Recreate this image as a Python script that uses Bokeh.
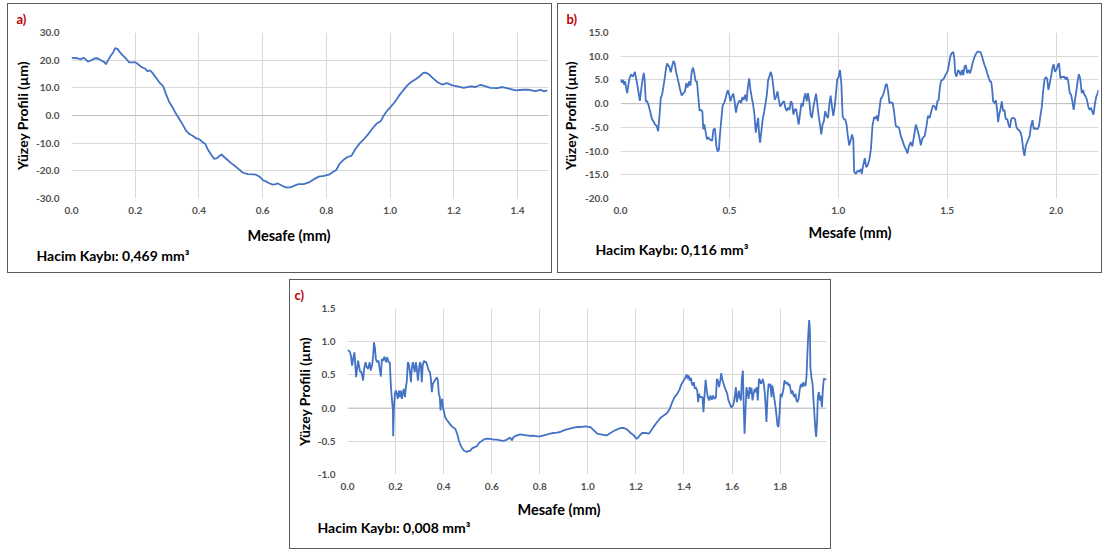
from bokeh.plotting import figure
from bokeh.models import Range1d, Title, Span, NumeralTickFormatter, FixedTicker, Spacer
from bokeh.layouts import row, column
from bokeh.embed import file_html
from bokeh.resources import INLINE

# ---------------- data ----------------
a_x = [0.000, 0.019, 0.029, 0.038, 0.045, 0.052, 0.063, 0.071, 0.082, 0.092, 0.103, 0.108, 0.115, 0.124,
       0.130, 0.137, 0.145, 0.151, 0.160, 0.171, 0.181, 0.192, 0.200, 0.209, 0.220, 0.230, 0.239, 0.246,
       0.254, 0.265, 0.275, 0.288, 0.296, 0.307, 0.317, 0.328, 0.338, 0.349, 0.359, 0.370, 0.380, 0.391,
       0.403, 0.412, 0.420, 0.427, 0.438, 0.448, 0.457, 0.464, 0.471, 0.480, 0.490, 0.501, 0.511, 0.524,
       0.537, 0.553, 0.569, 0.579, 0.590, 0.600, 0.610, 0.621, 0.631, 0.642,
       0.646, 0.661, 0.672, 0.687, 0.703, 0.713, 0.729, 0.745, 0.761, 0.776, 0.792, 0.808, 0.818, 0.831,
       0.841, 0.853, 0.865, 0.879, 0.891, 0.905, 0.918, 0.930, 0.944, 0.957, 0.970, 0.980, 0.991, 1.001,
       1.014, 1.027, 1.041, 1.054, 1.066, 1.080, 1.092, 1.104, 1.111, 1.122, 1.134, 1.148, 1.163, 1.179,
       1.195, 1.211, 1.231, 1.252, 1.268, 1.284, 1.300, 1.315, 1.336, 1.352, 1.373, 1.394, 1.415, 1.436,
       1.456, 1.472, 1.483, 1.493]
a_y = [20.8, 20.7, 20.3, 20.9, 20.2, 19.5, 20.0, 20.6, 20.7, 20.0, 19.3, 18.5, 20.0, 21.8,
       22.6, 24.4, 24.0, 23.0, 21.8, 20.6, 19.2, 19.2, 19.3, 18.5, 17.5, 17.0, 16.0, 16.3,
       15.4, 13.7, 12.1, 10.5, 7.9, 4.8, 3.0, 0.6, -1.2, -3.3, -5.4, -6.7, -7.3, -8.2,
       -8.7, -9.7, -10.3, -12.1, -14.1, -15.7, -15.4, -14.6, -14.1, -15.1, -16.1, -17.2, -18.1, -19.3,
       -20.6, -21.2, -21.3, -21.4, -22.1, -23.3, -23.8, -24.5, -25.0, -24.8,
       -24.5, -25.4, -26.0, -26.0, -25.2, -24.8, -24.8, -24.2, -23.0, -22.1, -21.8, -21.4, -20.6, -19.7,
       -17.5, -16.1, -15.1, -14.5, -12.1, -10.0, -8.5, -6.9, -4.8, -3.0, -2.1, 0.0, 1.8, 3.0,
       4.8, 7.0, 9.1, 10.9, 12.1, 13.1, 14.1, 15.4, 15.5, 14.9, 13.5, 12.1, 11.2, 11.7,
       10.9, 10.5, 10.0, 10.5, 10.3, 11.1, 10.5, 10.0, 9.9, 10.3, 9.7, 9.1, 9.3, 9.3,
       8.8, 9.3, 8.7, 9.1]

b_x = [0.000, 0.006, 0.011, 0.017, 0.021, 0.026, 0.031, 0.035, 0.041, 0.049, 0.055, 0.060, 0.066, 0.070,
       0.076, 0.082, 0.089, 0.095, 0.101, 0.107, 0.111, 0.116, 0.122, 0.128, 0.136, 0.144, 0.151, 0.159,
       0.166, 0.173, 0.179, 0.185, 0.191, 0.197, 0.203, 0.209, 0.214, 0.218, 0.224, 0.231, 0.237, 0.243,
       0.249, 0.255, 0.261, 0.267, 0.273, 0.281, 0.289, 0.296, 0.302, 0.308, 0.315, 0.321, 0.327, 0.333,
       0.339, 0.345, 0.351, 0.357, 0.363, 0.369, 0.376, 0.380, 0.385, 0.391, 0.397, 0.403, 0.409, 0.415,
       0.421, 0.427, 0.434, 0.440, 0.446, 0.452, 0.456, 0.463, 0.469, 0.475, 0.481, 0.487, 0.493, 0.499,
       0.505, 0.511, 0.518, 0.524, 0.530, 0.536, 0.542, 0.548, 0.554, 0.560, 0.566, 0.573, 0.579, 0.585,
       0.591, 0.597, 0.603, 0.609, 0.615, 0.621, 0.627, 0.632, 0.637, 0.641, 0.647, 0.653, 0.660, 0.666,
       0.672, 0.678, 0.684, 0.690, 0.696, 0.702, 0.708, 0.715, 0.721, 0.727, 0.733, 0.739, 0.745, 0.751,
       0.757, 0.763, 0.769, 0.776, 0.782, 0.788, 0.794, 0.800, 0.806, 0.812, 0.818, 0.824, 0.831, 0.837,
       0.843, 0.849, 0.855, 0.861, 0.867, 0.873, 0.879, 0.885, 0.892, 0.898, 0.904, 0.910, 0.916, 0.922,
       0.928, 0.934, 0.940, 0.947, 0.953, 0.959, 0.965, 0.971, 0.977, 0.983, 0.989, 0.995, 1.002, 1.008,
       1.014, 1.020, 1.026, 1.032, 1.038, 1.044, 1.050, 1.056, 1.063, 1.069,
       1.073, 1.081, 1.089, 1.096, 1.104, 1.108, 1.114, 1.122, 1.128, 1.134, 1.142, 1.150, 1.157, 1.165,
       1.171, 1.177, 1.182, 1.188, 1.195, 1.203, 1.211, 1.218, 1.223, 1.229, 1.235, 1.241, 1.250, 1.256,
       1.264, 1.272, 1.279, 1.287, 1.295, 1.302, 1.310, 1.318, 1.325, 1.333, 1.340, 1.348, 1.356, 1.363,
       1.371, 1.379, 1.385, 1.391, 1.397, 1.405, 1.412, 1.420, 1.427, 1.435, 1.443, 1.449, 1.455, 1.461,
       1.467, 1.473, 1.479, 1.485, 1.492, 1.498, 1.504, 1.510, 1.516, 1.522, 1.528, 1.533, 1.537, 1.543,
       1.550, 1.556, 1.562, 1.568, 1.574, 1.580, 1.586, 1.592, 1.598, 1.605, 1.611, 1.617, 1.623, 1.629,
       1.635, 1.641, 1.647, 1.653, 1.660, 1.666, 1.672, 1.678, 1.684, 1.690, 1.696, 1.702, 1.707, 1.711,
       1.718, 1.724, 1.730, 1.734, 1.739, 1.745, 1.751, 1.757, 1.763, 1.769, 1.776, 1.782, 1.788, 1.794,
       1.800, 1.806, 1.812, 1.818, 1.824, 1.831, 1.837, 1.843, 1.849, 1.855, 1.861, 1.867, 1.873, 1.879,
       1.885, 1.892, 1.898, 1.904, 1.910, 1.916, 1.922, 1.928, 1.934, 1.940, 1.947, 1.953, 1.959, 1.965,
       1.971, 1.977, 1.983, 1.989, 1.995, 2.002, 2.008, 2.014, 2.020, 2.026, 2.032, 2.038, 2.044, 2.050,
       2.056, 2.063, 2.069, 2.075, 2.081, 2.087, 2.093, 2.099, 2.105, 2.111, 2.118, 2.124, 2.130, 2.136,
       2.142, 2.148, 2.154, 2.160, 2.166, 2.172, 2.179, 2.185, 2.191, 2.195]
b_y = [5.1, 4.4, 5.0, 4.0, 4.7, 3.3, 2.2, 3.6, 5.3, 6.2, 5.7, 6.0, 6.7, 5.7,
       4.3, 2.6, 0.6, 2.9, 5.0, 6.5, 5.0, 0.5, 0.5, -0.2, -1.6, -3.2, -3.7, -4.4,
       -4.7, -5.8, -2.6, 1.2, 1.9, 3.6, 5.3, 7.4, 8.5, 8.1, 7.8, 6.6, 7.9, 9.0,
       8.5, 6.7, 5.6, 4.4, 3.1, 1.7, 2.2, 2.6, 4.3, 3.4, 4.7, 3.8, 6.7, 7.6,
       6.4, 4.7, 4.7, 1.5, -1.5, -1.3, -1.6, -5.4, -4.4, -6.0, -7.5, -7.1, -7.5, -7.7,
       -7.8, -5.4, -5.3, -8.9, -10.1, -9.7, -6.9, -3.3, -0.4, 0.1, 0.8, 2.0, 2.8, 1.9,
       0.5, 1.5, 2.1, 0.5, -1.9, -0.4, 0.3, 0.7, 0.1, 1.4, 0.8, 1.9, 0.5, 3.6,
       5.3, 2.9, 1.2, -0.2, -2.3, -6.1, -4.4, -3.0, -6.8, -8.2, -5.8, -3.3, -1.6, 0.1,
       1.9, 5.0, 5.8, 6.7, 5.7, 3.6, 0.8, 1.5, 2.6, 0.8, -0.6, -0.2, 0.3, 0.5,
       -0.9, -1.5, -0.9, -1.3, 0.5, 0.1, -2.3, -1.3, -1.1, -2.6, -4.4, -2.3, 0.1, -0.6,
       1.2, 2.2, 0.5, 2.2, 0.5, -2.3, -3.0, -0.9, 0.8, 2.1, -0.2, -2.6, -4.4, -6.5,
       -4.4, -3.7, -1.6, -2.6, -3.0, -0.2, 1.7, -0.6, -2.6, -0.9, 1.9, 5.0, 5.7, 7.1,
       4.3, -2.6, -3.3, -3.3, -4.4, -6.8, -8.8, -7.9, -6.5, -7.5,
       -14.4, -14.8, -14.1, -14.4, -13.8, -14.8, -13.1, -11.5, -13.4, -13.1, -12.0, -9.6, -4.7, -2.8,
       -3.2, -2.5, -3.7, -1.6, 1.0, 1.5, 2.6, 4.0, 4.1, 2.6, 0.1, 0.3, 0.1, -1.6,
       -4.7, -4.9, -5.1, -6.8, -7.8, -8.8, -9.6, -10.5, -8.9, -8.1, -9.0, -6.8, -4.4, -5.4,
       -6.8, -8.8, -7.5, -7.1, -6.8, -4.7, -2.6, -3.0, -1.6, -0.4, -0.6, -1.4, 0.5, 0.8,
       3.6, 4.9, 5.0, 5.3, 6.0, 6.5, 7.1, 8.8, 10.2, 10.7, 10.9, 9.5, 6.4, 5.7,
       7.1, 6.7, 6.0, 7.1, 6.0, 7.8, 8.1, 6.4, 7.1, 6.4, 7.4, 8.5, 9.5, 10.2,
       10.7, 11.0, 10.9, 10.9, 10.0, 9.0, 8.1, 7.4, 6.4, 5.6, 4.7, 4.7, 2.9, 0.5,
       0.1, 0.7, -1.6, -3.9, -2.3, -1.1, 0.5, -1.6, -1.3, -3.2, -3.3, -4.4, -5.1, -3.3,
       -3.0, -3.0, -3.3, -4.9, -5.4, -5.6, -6.1, -7.1, -9.6, -11.0, -8.9, -8.2, -7.5, -6.8,
       -4.7, -3.5, -5.4, -5.1, -5.4, -5.3, -4.7, -2.6, -0.9, 2.2, 5.1, 5.6, 5.3, 2.9,
       4.3, 5.7, 7.4, 8.3, 6.7, 7.2, 8.1, 8.5, 5.3, 5.7, 5.6, 5.7, 5.1, 5.6,
       4.7, 2.2, 1.9, 0.5, -1.3, 0.8, 2.6, 4.7, 6.2, 5.3, 2.2, 2.9, 1.9, 1.5,
       0.8, -0.6, -1.3, -0.9, -1.6, -2.3, 0.1, 1.5, 2.2, 2.9]

c_x = [0.000, 0.006, 0.011, 0.015, 0.019, 0.025, 0.029, 0.033, 0.036, 0.040, 0.044, 0.049, 0.053, 0.057,
       0.061, 0.065, 0.069, 0.075, 0.080, 0.086, 0.092, 0.097, 0.103, 0.107, 0.110, 0.114, 0.118, 0.123,
       0.129, 0.135, 0.139, 0.143, 0.148, 0.154, 0.160, 0.165, 0.171, 0.176, 0.180, 0.184, 0.189, 0.190,
       0.193, 0.197, 0.201, 0.205, 0.209, 0.214, 0.218, 0.222, 0.226, 0.230, 0.234, 0.239, 0.243, 0.247,
       0.251, 0.255, 0.259, 0.264, 0.268, 0.272, 0.276, 0.280, 0.284, 0.288, 0.293, 0.297, 0.301, 0.305,
       0.309, 0.313, 0.318, 0.322, 0.326, 0.330, 0.334, 0.338, 0.343, 0.347, 0.351, 0.355, 0.359, 0.363,
       0.368, 0.372, 0.376, 0.380, 0.384, 0.387, 0.390, 0.394, 0.398, 0.402, 0.406, 0.413, 0.420, 0.427,
       0.434, 0.441, 0.448, 0.452, 0.458, 0.463, 0.469, 0.476, 0.483, 0.490, 0.497, 0.503, 0.510, 0.517,
       0.524, 0.531, 0.538, 0.545, 0.552, 0.559, 0.566, 0.573, 0.580, 0.594, 0.607, 0.621, 0.635, 0.649,
       0.663, 0.677, 0.684, 0.691, 0.705, 0.718, 0.732, 0.746, 0.760, 0.774, 0.788, 0.802, 0.816, 0.829,
       0.843, 0.857, 0.871, 0.885, 0.899, 0.913, 0.926, 0.940, 0.954, 0.968, 0.989,
       1.011, 1.025, 1.039, 1.053, 1.067, 1.080, 1.094, 1.108, 1.122, 1.136, 1.150, 1.164, 1.178, 1.191,
       1.202, 1.208, 1.216, 1.226, 1.240, 1.254, 1.264, 1.275, 1.288, 1.302, 1.316, 1.330, 1.341, 1.351,
       1.361, 1.372, 1.381, 1.388, 1.394, 1.399, 1.405, 1.411, 1.416, 1.420, 1.424, 1.429, 1.433, 1.437,
       1.441, 1.445, 1.449, 1.455, 1.459, 1.463, 1.467, 1.472, 1.477, 1.481, 1.485, 1.490, 1.494, 1.499,
       1.505, 1.510, 1.516, 1.521, 1.527, 1.533, 1.537, 1.541, 1.546, 1.551, 1.555, 1.559, 1.563, 1.569,
       1.574, 1.580, 1.585, 1.591, 1.596, 1.602, 1.607, 1.612, 1.616, 1.620, 1.624, 1.628, 1.632, 1.637,
       1.641, 1.645, 1.649, 1.652, 1.656, 1.660, 1.664, 1.669, 1.673, 1.677, 1.681, 1.685, 1.691, 1.695,
       1.699, 1.703, 1.707, 1.712, 1.716, 1.720, 1.724, 1.728, 1.732, 1.736, 1.741, 1.743, 1.748, 1.752,
       1.756, 1.760, 1.764, 1.768, 1.773, 1.777, 1.781, 1.785, 1.789, 1.793, 1.798, 1.802, 1.806, 1.810,
       1.814, 1.818, 1.822, 1.827, 1.831, 1.835, 1.839, 1.843, 1.847, 1.851, 1.856, 1.860, 1.864, 1.868,
       1.872, 1.877, 1.881, 1.885, 1.889, 1.893, 1.897, 1.902, 1.906, 1.910, 1.914, 1.918, 1.921, 1.924,
       1.926, 1.931, 1.935, 1.939, 1.943, 1.947, 1.950, 1.954, 1.957, 1.961, 1.965, 1.969, 1.974, 1.978,
       1.982, 1.987, 1.993]
c_y = [0.865, 0.865, 0.84, 0.77, 0.64, 0.77, 0.84, 0.615, 0.465, 0.59, 0.715, 0.615, 0.54, 0.555,
       0.49, 0.415, 0.59, 0.69, 0.615, 0.59, 0.69, 0.565, 0.665, 0.79, 0.99, 0.915, 0.74, 0.69,
       0.715, 0.565, 0.475, 0.74, 0.715, 0.775, 0.69, 0.765, 0.69, 0.69, 0.365, 0.165, -0.035, -0.425,
       -0.035, 0.215, 0.265, 0.215, 0.14, 0.265, 0.165, 0.265, 0.14, 0.215, 0.29, 0.165, 0.315, 0.415,
       0.69, 0.665, 0.565, 0.39, 0.615, 0.69, 0.615, 0.54, 0.69, 0.615, 0.415, 0.565, 0.69, 0.665,
       0.39, 0.64, 0.715, 0.69, 0.70, 0.665, 0.615, 0.565, 0.54, 0.44, 0.24, 0.365, 0.39, 0.415,
       0.44, 0.465, 0.415, 0.215, 0.165, -0.035, 0.09, 0.14, -0.01, -0.06, -0.135, -0.175, -0.21, -0.245,
       -0.275, -0.295, -0.31, -0.345, -0.41, -0.485, -0.545, -0.595, -0.635, -0.65, -0.66, -0.645, -0.645, -0.61,
       -0.595, -0.585, -0.575, -0.535, -0.51, -0.495, -0.475, -0.465, -0.46, -0.465, -0.475, -0.475, -0.485, -0.495,
       -0.475, -0.445, -0.485, -0.435, -0.41, -0.395, -0.405, -0.41, -0.42, -0.415, -0.425, -0.425, -0.41, -0.40,
       -0.385, -0.375, -0.37, -0.36, -0.335, -0.32, -0.31, -0.295, -0.285, -0.285, -0.275,
       -0.285, -0.335, -0.385, -0.395, -0.405, -0.41, -0.375, -0.345, -0.32, -0.30, -0.30, -0.325, -0.375, -0.41,
       -0.46, -0.45, -0.41, -0.375, -0.375, -0.385, -0.335, -0.275, -0.21, -0.15, -0.11, -0.075, -0.01, 0.09,
       0.165, 0.215, 0.275, 0.35, 0.39, 0.415, 0.455, 0.505, 0.44, 0.49, 0.415, 0.455, 0.365, 0.34,
       0.39, 0.29, 0.315, 0.265, 0.09, 0.215, 0.165, 0.165, 0.165, -0.06, 0.165, 0.425, 0.29, 0.165,
       0.115, 0.19, 0.125, 0.19, 0.14, 0.165, 0.44, 0.415, 0.315, 0.415, 0.525, 0.44, 0.39, 0.315,
       0.275, 0.215, 0.115, 0.065, 0.015, 0.025, 0.075, 0.19, 0.315, 0.09, 0.165, 0.265, 0.165, 0.115,
       0.44, 0.565, -0.035, -0.385, -0.035, 0.315, 0.24, 0.14, 0.315, 0.215, 0.305, 0.115, 0.24, 0.29,
       0.24, 0.315, 0.115, 0.44, 0.415, 0.365, 0.39, 0.44, 0.365, 0.24, -0.035, -0.21, 0.19, 0.365,
       0.315, 0.365, 0.165, 0.34, 0.215, 0.115, 0.015, -0.11, -0.26, -0.285, -0.06, 0.215, 0.165, 0.215,
       0.29, 0.415, 0.39, 0.365, 0.39, 0.34, 0.365, 0.29, 0.215, 0.265, 0.19, 0.165, 0.215, 0.115,
       0.09, 0.14, 0.265, 0.34, 0.365, 0.315, 0.39, 0.34, 0.34, 0.49, 0.865, 1.165, 1.325, 1.165,
       0.615, 0.44, 0.365, 0.115, -0.11, -0.335, -0.435, -0.185, 0.165, 0.24, 0.115, 0.19, 0.015, 0.29,
       0.44, 0.44, 0.425]

a_xticks = [0.0, 0.2, 0.4, 0.6, 0.8, 1.0, 1.2, 1.4]
a_yticks = [-30, -20, -10, 0, 10, 20, 30]
b_xticks = [0.0, 0.5, 1.0, 1.5, 2.0]
b_yticks = [-20, -15, -10, -5, 0, 5, 10, 15]
c_xticks = [0.0, 0.2, 0.4, 0.6, 0.8, 1.0, 1.2, 1.4, 1.6, 1.8]
c_yticks = [-1.0, -0.5, 0.0, 0.5, 1.0, 1.5]

tags = ["a)", "b)", "c)"]
losses = ["Hacim Kaybı: 0,469 mm³", "Hacim Kaybı: 0,116 mm³", "Hacim Kaybı: 0,008 mm³"]
x_title = "Mesafe (mm)"
y_title = "Yüzey Profili (µm)"

FONT = "Lato"
LINE = "#4472C4"


def txt(text, color, size, offset, standoff, valign):
    return Title(text=text, align="left", offset=offset, standoff=standoff,
                 vertical_align=valign, text_font=FONT, text_font_style="bold",
                 text_font_size=size, text_color=color)


def panel(x, y, xr, yr, xt, yt, w, h, mb, tag, loss, off):
    p = figure(width=w, height=h, x_range=Range1d(*xr), y_range=Range1d(*yr),
               output_backend="svg", toolbar_location=None,
               min_border_left=mb[0], min_border_right=mb[1],
               min_border_top=mb[2], min_border_bottom=mb[3])
    p.outline_line_color = None
    p.background_fill_color = "white"
    p.border_fill_color = "white"
    p.xaxis.ticker = FixedTicker(ticks=xt)
    p.yaxis.ticker = FixedTicker(ticks=yt)
    for ax in (p.xaxis[0], p.yaxis[0]):
        ax.axis_line_color = None
        ax.major_tick_line_color = None
        ax.minor_tick_line_color = None
        ax.major_tick_out = 0
        ax.major_tick_in = 0
        ax.formatter = NumeralTickFormatter(format="0.0")
        ax.major_label_text_font = FONT
        ax.major_label_text_font_style = "bold"
        ax.major_label_text_font_size = "10px"
        ax.major_label_text_color = "#505050"
    p.xaxis.major_label_standoff = 8
    p.yaxis.major_label_standoff = 12
    yax = p.yaxis[0]
    yax.axis_label = y_title
    yax.axis_label_standoff = off["ystand"]
    yax.axis_label_text_font = FONT
    yax.axis_label_text_font_style = "bold"
    yax.axis_label_text_font_size = "14px"
    yax.axis_label_text_color = "#000000"
    p.grid.grid_line_color = "#d9d9d9"
    p.grid.grid_line_width = 1
    p.add_layout(Span(location=0, dimension="width", line_color="#bfbfbf",
                      line_width=1, level="underlay"))
    p.line(x, y, line_color=LINE, line_width=1.8)

    p.title = txt(tag, "#c00000", "13px", off["tag"], 10, "middle")
    p.add_layout(txt(x_title, "#000000", "14.5px", off["xt"], off["s1"], "top"), "below")
    p.add_layout(txt(loss, "#000000", "14px", off["loss"], off["s2"], "top"), "below")
    p.styles = {"outline": "1px solid #5a5a5a"}
    return p


pa = panel(a_x, a_y, (0, 1.497), (-30, 30), a_xticks, a_yticks, 543, 268, (63, 3, 28, 74),
           tags[0], losses[0], {"tag": -55, "xt": 176, "loss": -35, "ystand": 2, "s1": 20, "s2": -17})
pb = panel(b_x, b_y, (0, 2.195), (-20, 15), b_xticks, b_yticks, 543, 268, (61, 3, 28, 71),
           tags[1], losses[1], {"tag": -54, "xt": 188, "loss": -25, "ystand": 3, "s1": 14, "s2": -17})
pc = panel(c_x, c_y, (0, 1.993), (-1.0, 1.5), c_xticks, c_yticks, 540, 268, (57, 4, 28, 74),
           tags[2], losses[2], {"tag": -53, "xt": 170, "loss": -30, "ystand": 2, "s1": 16, "s2": -18})

layout = column(Spacer(height=4, width=10),
                row(Spacer(width=8, height=10), pa, Spacer(width=7, height=10), pb),
                Spacer(height=8, width=10),
                row(Spacer(width=290, height=10), pc))

open("out.html", "w").write(file_html(layout, INLINE))
